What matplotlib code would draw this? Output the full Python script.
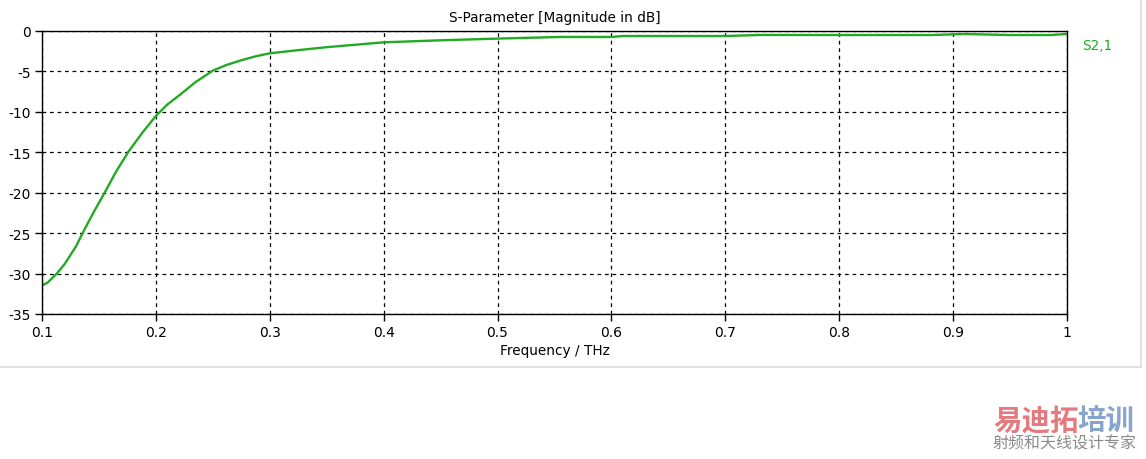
import numpy as np
import matplotlib.pyplot as plt
from matplotlib.lines import Line2D

plt.rcParams['axes.unicode_minus'] = False

# S2,1 magnitude (THz, dB)
freq = [0.100, 0.105, 0.113, 0.120, 0.130, 0.136, 0.145, 0.155, 0.165, 0.176,
        0.188, 0.200, 0.210, 0.221, 0.235, 0.250, 0.262, 0.274, 0.287, 0.300,
        0.326, 0.350, 0.375, 0.400, 0.450, 0.500, 0.554, 0.600, 0.610, 0.700,
        0.730, 0.800, 0.880, 0.910, 0.950, 0.985, 1.000]
s21 = [-31.5, -31.1, -30.0, -28.8, -26.6, -24.9, -22.5, -20.0, -17.4, -14.9,
       -12.6, -10.5, -9.1, -7.9, -6.3, -4.9, -4.2, -3.66, -3.15, -2.76,
       -2.35, -2.0, -1.7, -1.4, -1.15, -0.94, -0.74, -0.74, -0.62, -0.62,
       -0.49, -0.5, -0.5, -0.37, -0.5, -0.5, -0.37]

xticks = [0.1, 0.2, 0.3, 0.4, 0.5, 0.6, 0.7, 0.8, 0.9, 1.0]
xticklabels = ["0.1", "0.2", "0.3", "0.4", "0.5", "0.6", "0.7", "0.8", "0.9", "1"]
yticks = [0, -5, -10, -15, -20, -25, -30, -35]

green = "#22aa22"

fig = plt.figure(figsize=(11.46, 4.6), dpi=100)
W, H = 1146, 460
ax = fig.add_axes([42 / W, 1 - 315 / H, (1067 - 42) / W, (315 - 32) / H])

ax.plot(freq, s21, color=green, lw=1.7)
ax.set_xlim(0.1, 1.0)
ax.set_ylim(-35, 0)
ax.set_xticks(xticks)
ax.set_xticklabels(xticklabels)
ax.set_yticks(yticks)
ax.grid(True, color="black", linestyle=(0, (3, 3)), lw=0.9)
for s in ax.spines.values():
    s.set_color("black")
    s.set_linewidth(1.0)
ax.tick_params(direction="out", length=5, width=1, labelsize=10, pad=3)

ax.set_title("S-Parameter [Magnitude in dB]", fontsize=9.8, pad=7)
ax.set_xlabel("Frequency / THz", fontsize=9.8, labelpad=3)

fig.text(1082 / W, 1 - 46 / H, "S2,1", color=green, fontsize=9.8, va="center")

# panel border
fig.add_artist(Line2D([0, 1141 / W], [1 - 368 / H] * 2, color="#dcdcdc", lw=1.2))
fig.add_artist(Line2D([1141 / W] * 2, [1 - 368 / H, 1], color="#dcdcdc", lw=1.2))

# watermark
cjk = ["Noto Sans CJK SC", "DejaVu Sans"]
fig.text(993 / W, 1 - 421 / H, "易迪拓", color="#e57a7e", fontsize=20.5,
         fontweight="bold", family=cjk, va="center")
fig.text(1077 / W, 1 - 421 / H, "培训", color="#86a4cc", fontsize=20.5,
         fontweight="bold", family=cjk, va="center")
fig.text(992 / W, 1 - 444 / H, "射频和天线设计专家", color="#8a8a8a", fontsize=11.5,
         family=cjk, va="center")

fig.savefig("out.png", dpi=100)
